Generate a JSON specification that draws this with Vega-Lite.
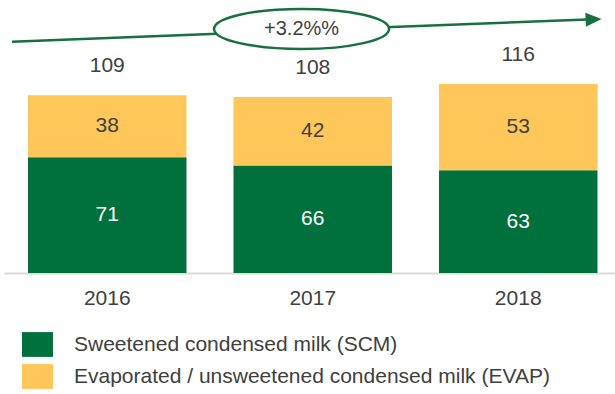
{
  "$schema": "https://vega.github.io/schema/vega-lite/v6.json",
  "width": 611,
  "height": 269,
  "autosize": {"type": "none"},
  "padding": {"left": 4, "top": 4, "right": 0, "bottom": 121},
  "config": {
    "view": {"stroke": null},
    "font": "Liberation Sans",
    "text": {"font": "Liberation Sans"}
  },
  "datasets": {
    "bars": [
      {"year": "2016", "segment": "Sweetened condensed milk (SCM)", "value": 71, "o": 1},
      {"year": "2016", "segment": "Evaporated / unsweetened condensed milk (EVAP)", "value": 38, "o": 2},
      {"year": "2017", "segment": "Sweetened condensed milk (SCM)", "value": 66, "o": 1},
      {"year": "2017", "segment": "Evaporated / unsweetened condensed milk (EVAP)", "value": 42, "o": 2},
      {"year": "2018", "segment": "Sweetened condensed milk (SCM)", "value": 63, "o": 1},
      {"year": "2018", "segment": "Evaporated / unsweetened condensed milk (EVAP)", "value": 53, "o": 2}
    ],
    "totals": [
      {"year": "2016", "total": 109},
      {"year": "2017", "total": 108},
      {"year": "2018", "total": 116}
    ],
    "trend": [
      {"x": 0.039, "y": 141.9},
      {"x": 2.895, "y": 155.6}
    ],
    "head": [
      {"x": 2.895, "y": 155.6}
    ],
    "cagr": [
      {"x": 1.461, "y": 149.7, "label": "+3.2%%"}
    ]
  },
  "layer": [
    {
      "layer": [
        {
          "data": {"name": "bars"},
          "mark": {"type": "bar"},
          "encoding": {
            "x": {
              "field": "year", "type": "nominal",
              "scale": {"paddingInner": 0.2287, "paddingOuter": 0.101, "align": 0.578},
              "axis": {
                "title": null, "labelAngle": 0, "labelFontSize": 21, "labelColor": "#404040",
                "labelFont": "Liberation Sans", "ticks": false, "tickSize": 0,
                "labelPadding": 25, "labelBaseline": "middle",
                "domainColor": "#D9D9D9", "domainWidth": 2, "grid": false
              }
            },
            "y": {
              "field": "value", "type": "quantitative", "stack": "zero",
              "scale": {"domain": [0, 165], "nice": false}, "axis": null
            },
            "color": {
              "field": "segment", "type": "nominal",
              "scale": {
                "domain": ["Sweetened condensed milk (SCM)", "Evaporated / unsweetened condensed milk (EVAP)"],
                "range": ["#00703C", "#FFC65A"]
              },
              "legend": {
                "title": null, "orient": "none", "legendX": 18, "legendY": 325,
                "direction": "vertical", "padding": 0,
                "symbolType": "M-1,-0.8H1V0.8H-1Z", "symbolSize": 961,
                "symbolStrokeWidth": 0, "symbolOpacity": 1,
                "labelFontSize": 21, "labelColor": "#404040", "labelFont": "Liberation Sans",
                "labelOffset": 21, "rowPadding": 4, "labelLimit": 600
              }
            },
            "order": {"field": "o", "type": "quantitative"}
          }
        },
        {
          "data": {"name": "bars"},
          "transform": [
            {"stack": "value", "groupby": ["year"], "sort": [{"field": "o", "order": "ascending"}], "as": ["v0", "v1"]},
            {"calculate": "(datum.v0 + datum.v1) / 2", "as": "mid"}
          ],
          "mark": {"type": "text", "fontSize": 21, "baseline": "middle", "align": "center"},
          "encoding": {
            "x": {"field": "year", "type": "nominal"},
            "y": {"field": "mid", "type": "quantitative"},
            "text": {"field": "value", "type": "quantitative"},
            "color": {
              "condition": {"test": "datum.segment === 'Sweetened condensed milk (SCM)'", "value": "#FFFFFF"},
              "value": "#404040"
            }
          }
        },
        {
          "data": {"name": "totals"},
          "mark": {"type": "text", "fontSize": 21, "baseline": "middle", "align": "center", "dy": -29, "color": "#404040"},
          "encoding": {
            "x": {"field": "year", "type": "nominal"},
            "y": {"field": "total", "type": "quantitative"},
            "text": {"field": "total", "type": "quantitative"}
          }
        }
      ]
    },
    {
      "layer": [
        {
          "data": {"name": "trend"},
          "mark": {"type": "line", "color": "#177040", "strokeWidth": 2.5},
          "encoding": {
            "x": {"field": "x", "type": "quantitative", "scale": {"domain": [0, 3], "nice": false, "zero": false}, "axis": null},
            "y": {"field": "y", "type": "quantitative", "axis": null}
          }
        },
        {
          "data": {"name": "head"},
          "mark": {"type": "point", "shape": "M-1,-0.875L1,0L-1,0.875Z", "size": 256, "filled": true, "color": "#177040", "opacity": 1, "angle": 357.8},
          "encoding": {
            "x": {"field": "x", "type": "quantitative"},
            "y": {"field": "y", "type": "quantitative"}
          }
        },
        {
          "data": {"name": "cagr"},
          "mark": {"type": "point", "shape": "M-1,0A1,0.229,0,1,1,1,0A1,0.229,0,1,1,-1,0Z", "size": 30625, "filled": true, "fill": "#FFFFFF", "stroke": "#177040", "strokeWidth": 2.5, "opacity": 1, "fillOpacity": 1},
          "encoding": {
            "x": {"field": "x", "type": "quantitative"},
            "y": {"field": "y", "type": "quantitative"}
          }
        },
        {
          "data": {"name": "cagr"},
          "mark": {"type": "text", "fontSize": 20, "baseline": "middle", "align": "center", "color": "#404040"},
          "encoding": {
            "x": {"field": "x", "type": "quantitative"},
            "y": {"field": "y", "type": "quantitative"},
            "text": {"field": "label"}
          }
        }
      ]
    }
  ],
  "resolve": {"scale": {"x": "independent"}}
}
